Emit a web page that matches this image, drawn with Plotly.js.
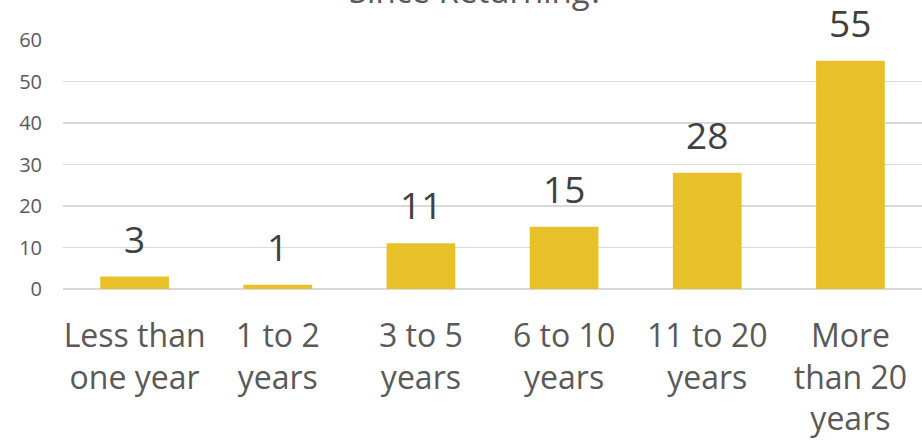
<!DOCTYPE html>
<html>
<head>
<meta charset="utf-8">
<script src="https://cdn.plot.ly/plotly-3.0.1.min.js"></script>
<style>html,body{margin:0;padding:0;background:#fff;}#chart{width:922px;height:441px;}</style>
</head>
<body>
<div id="chart"></div>
<script>
const categories = ["Less than<br>one year", "1 to 2<br>years", "3 to 5<br>years", "6 to 10<br>years", "11 to 20<br>years", "More<br>than 20<br>years"];
const values = [3, 1, 11, 15, 28, 55];
const titleText = "Since Returning?";
const yTicks = [0, 10, 20, 30, 40, 50, 60];

const font = "Open Sans, sans-serif";
const trace = {
  type: "bar",
  x: categories,
  y: values,
  marker: {color: "#E8C12A"},
  hoverinfo: "skip"
};
const annotations = categories.map((c, i) => ({
  x: c, y: values[i], xref: "x", yref: "y",
  text: String(values[i]), showarrow: false,
  yanchor: "bottom", yshift: 11,
  font: {family: font, size: 37, color: "#404040"}
}));
annotations.push({
  xref: "paper", yref: "paper", x: 0.481, y: 1.2, xanchor: "center", yanchor: "middle",
  text: titleText, showarrow: false,
  font: {family: font, size: 33, color: "#595959"}
});
const layout = {
  width: 922, height: 441,
  margin: {l: 63, r: 0, t: 40, b: 152},
  paper_bgcolor: "#fff", plot_bgcolor: "#fff",
  bargap: 0.52,
  showlegend: false,
  xaxis: {
    type: "category",
    tickfont: {family: font, size: 32, color: "#595959"},
    showgrid: false, showline: false, ticks: "",
    ticklabelstandoff: 25
  },
  yaxis: {
    range: [0, 60],
    tickvals: yTicks,
    tickfont: {family: font, size: 20, color: "#595959"},
    showgrid: true, gridcolor: "#D9D9D9", gridwidth: 1.3,
    zeroline: true, zerolinecolor: "#D9D9D9", zerolinewidth: 1.3,
    showline: false, ticks: "",
    ticklabelstandoff: 20
  },
  annotations: annotations
};
Plotly.newPlot("chart", [trace], layout, {displayModeBar: false, staticPlot: true});
</script>
</body>
</html>
